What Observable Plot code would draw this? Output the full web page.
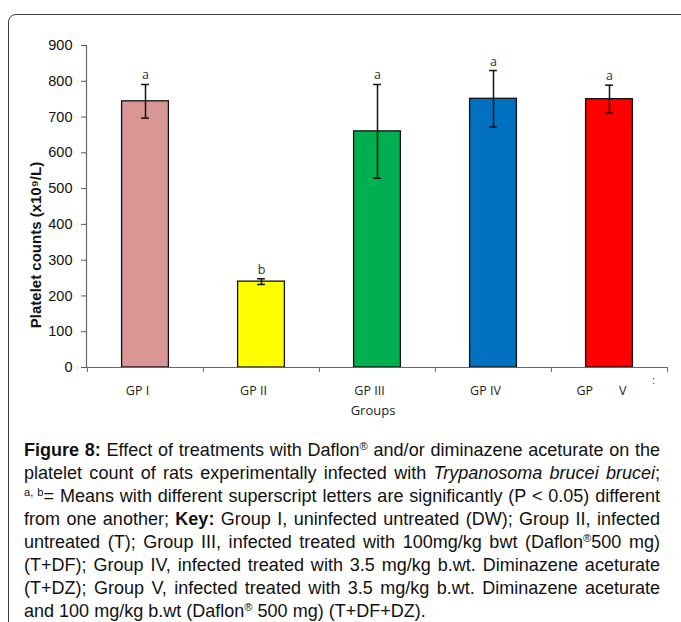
<!DOCTYPE html>
<html>
<head>
<meta charset="utf-8">
<script src="https://cdn.jsdelivr.net/npm/d3@7"></script>
<script src="https://cdn.jsdelivr.net/npm/@observablehq/plot@0.6"></script>
<style>
  html, body { margin: 0; padding: 0; background: #fff; }
  body { width: 681px; height: 622px; position: relative; overflow: hidden; }
  #frame { position: absolute; left: 8px; top: 14px; width: 720px; height: 700px; border: 1.4px solid #3a3a3a; border-radius: 8px; box-sizing: border-box; }
  #chart { position: absolute; left: 0; top: 0; }
  #ylabel { position: absolute; left: 35px; top: 245px; transform: translate(-50%, -50%) rotate(-90deg); white-space: nowrap; font-weight: bold; font-size: 15px; color: #111; }
  #caption { position: absolute; left: 24px; top: 439px; width: 636px; line-height: 23px; color: #111; }
  #caption .ln { white-space: nowrap; }
  #caption.ready .ln { text-align: justify; text-align-last: justify; white-space: normal; }
  #caption.ready .ln.last { text-align-last: left; }
  #caption sup { font-size: 0.62em; line-height: 0; vertical-align: 0.5em; }
  #dots { position: absolute; left: 652px; top: 374px; font-size: 11px; color: #333; }
</style>
</head>
<body>
<div id="frame"></div>
<div id="chart"></div>
<div id="ylabel"></div>
<div id="dots">:</div>
<div id="caption">
  <div class="ln"><b>Figure 8:</b> Effect of treatments with Daflon<sup>®</sup> and/or diminazene aceturate on the</div>
  <div class="ln">platelet count of rats experimentally infected with <i>Trypanosoma brucei brucei</i>;</div>
  <div class="ln"><sup>a, b</sup>= Means with different superscript letters are significantly (P &lt; 0.05) different</div>
  <div class="ln">from one another; <b>Key:</b> Group I, uninfected untreated (DW); Group II, infected</div>
  <div class="ln">untreated (T); Group III, infected treated with 100mg/kg bwt (Daflon<sup>®</sup>500 mg)</div>
  <div class="ln">(T+DF); Group IV, infected treated with 3.5 mg/kg b.wt. Diminazene aceturate</div>
  <div class="ln">(T+DZ); Group V, infected treated with 3.5 mg/kg b.wt. Diminazene aceturate</div>
  <div class="ln last">and 100 mg/kg b.wt (Daflon<sup>®</sup> 500 mg) (T+DF+DZ).</div>
</div>
<script>
const groups = ["GP I", "GP II", "GP III", "GP IV", "GP V"];
const tickLabels = ["GP I", "GP II", "GP III", "GP IV", "GP\u00a0\u00a0\u00a0\u00a0\u00a0\u00a0\u00a0\u00a0V"];
const means = [744, 240, 660, 751, 750];
const errors = [47, 8, 131, 79, 39];
const letters = ["a", "b", "a", "a", "a"];
const colors = ["#d99694", "#ffff00", "#00b050", "#0070c0", "#ff0000"];
const yTicks = [0, 100, 200, 300, 400, 500, 600, 700, 800, 900];
const yLabel = "Platelet counts (x10\u2079/L)";
const xLabel = "Groups";

// pick installed fonts
function hasFont(name) {
  const c = document.createElement("canvas").getContext("2d");
  const s = "mmmmmmmmmmlli1WQ@#abcdefg";
  for (const base of ["monospace", "serif"]) {
    c.font = `40px ${base}`; const w0 = c.measureText(s).width;
    c.font = `40px "${name}", ${base}`; const w1 = c.measureText(s).width;
    if (Math.abs(w0 - w1) > 0.01) return true;
  }
  return false;
}
function pick(list, fallback) {
  for (const f of list) if (hasFont(f)) return `"${f}"`;
  return fallback;
}
const SANS = pick(["Liberation Sans", "Arial", "Helvetica", "Roboto", "Noto Sans"], "sans-serif");
const TICKFONT = pick(["Open Sans", "Noto Sans", "Liberation Sans"], "sans-serif");
document.body.style.fontFamily = SANS + ", sans-serif";

const data = groups.map((g, i) => ({
  group: g, mean: means[i], lo: means[i] - errors[i], hi: means[i] + errors[i],
  letter: letters[i], color: colors[i]
}));

const W = 681, H = 425, ML = 86, MR = 14, MT = 45, MB = 58;
const bw = (W - ML - MR) / groups.length;
const barW = 47;
const capW = 8;
const bIn = (bw - barW) / 2;
const cIn = (bw - capW) / 2;

const chart = Plot.plot({
  width: W, height: H,
  marginLeft: ML, marginRight: MR, marginTop: MT, marginBottom: MB,
  style: { fontFamily: SANS + ", sans-serif", background: "transparent", overflow: "visible" },
  x: { domain: groups, padding: 0, axis: null },
  y: { domain: [0, 900], axis: null },
  marks: [
    Plot.barY(data, { x: "group", y: "mean", fill: "color", stroke: "#111", strokeWidth: 1.3, insetLeft: bIn, insetRight: bIn }),
    Plot.ruleX(data, { x: "group", y1: "lo", y2: "hi", stroke: "#111", strokeWidth: 1.5 }),
    Plot.tickY(data, { x: "group", y: "lo", stroke: "#111", strokeWidth: 1.5, insetLeft: cIn, insetRight: cIn }),
    Plot.tickY(data, { x: "group", y: "hi", stroke: "#111", strokeWidth: 1.5, insetLeft: cIn, insetRight: cIn }),
    Plot.text(data, { x: "group", y: "hi", text: "letter", dy: -9, fontSize: 12.5, fill: "#333", fontFamily: TICKFONT }),
    // y axis
    Plot.axisY(yTicks, { tickSize: 5, tickPadding: 9, fontSize: 14.5, stroke: "#555", fill: "#111", label: null }),
    Plot.frame({ anchor: "left", stroke: "#666", strokeWidth: 1.2 }),
    Plot.ruleY([0], { stroke: "#666", strokeWidth: 1.2 }),
    // x axis ticks at band boundaries
    Plot.axisX(groups, { tickSize: 5, tickFormat: () => "", dx: -bw / 2, stroke: "#666", label: null }),
    Plot.axisX([groups[groups.length - 1]], { tickSize: 5, tickFormat: () => "", dx: bw / 2, stroke: "#666", label: null }),
    // x tick labels
    Plot.axisX(groups, { tickSize: 0, tickPadding: 19, dx: -8, tickFormat: (d) => tickLabels[groups.indexOf(d)], fontSize: 12.5, fill: "#222", label: null, fontFamily: TICKFONT }),
    // x axis title
    Plot.text([xLabel], { frameAnchor: "bottom", dy: 47, dx: -4, fontSize: 13, fill: "#222", fontFamily: TICKFONT })
  ]
});
document.getElementById("chart").appendChild(chart);
document.getElementById("ylabel").textContent = yLabel;

// fit caption font so that the longest line nearly fills the width
const cap = document.getElementById("caption");
cap.style.fontSize = "20px";
const lines = Array.from(cap.querySelectorAll(".ln"));
let maxW = 0;
for (const ln of lines) {
  const span = document.createElement("span");
  while (ln.firstChild) span.appendChild(ln.firstChild);
  ln.appendChild(span);
  maxW = Math.max(maxW, span.getBoundingClientRect().width);
}
const fs = Math.min(19, 20 * 628 / maxW);
cap.style.fontSize = fs.toFixed(2) + "px";
cap.classList.add("ready");
</script>
</body>
</html>
